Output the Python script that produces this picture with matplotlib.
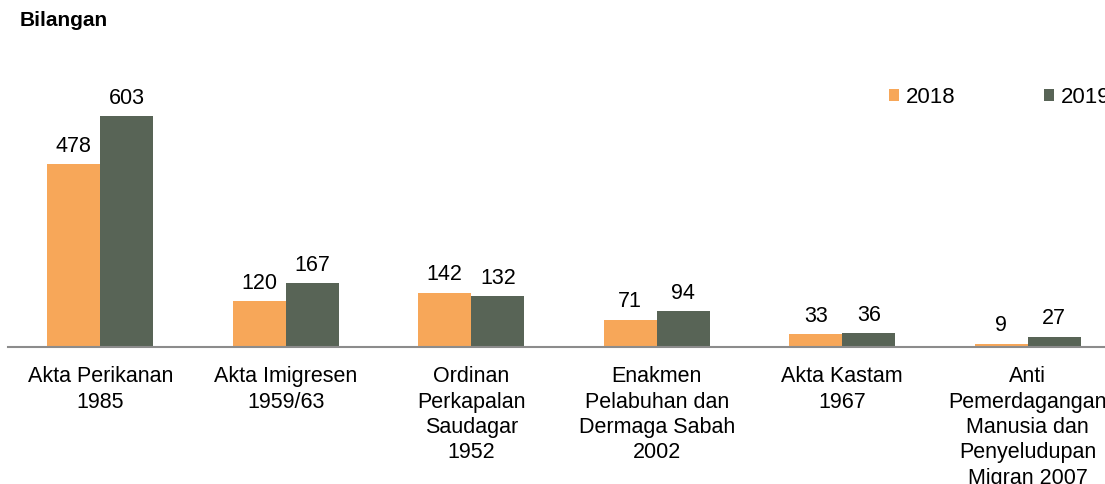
import numpy as np
import matplotlib.pyplot as plt

plt.rcParams['font.family'] = ['Liberation Sans', 'DejaVu Sans']

categories = ['Akta Perikanan\n1985', 'Akta Imigresen\n1959/63', 'Ordinan\nPerkapalan\nSaudagar\n1952',
              'Enakmen\nPelabuhan dan\nDermaga Sabah\n2002', 'Akta Kastam\n1967',
              'Anti\nPemerdagangan\nManusia dan\nPenyeludupan\nMigran 2007']
val2018 = [478, 120, 142, 71, 33, 9]
val2019 = [603, 167, 132, 94, 36, 27]

W, H = 1105, 485
fig = plt.figure(figsize=(W / 100, H / 100), dpi=100)
ax = fig.add_axes([7.5 / W, (H - 348) / H, 1113 / W, 268 / H])

x = np.arange(len(categories))
bw = 0.286
b1 = ax.bar(x - bw / 2, val2018, bw, color='#F7A759', label='2018')
b2 = ax.bar(x + bw / 2, val2019, bw, color='#586456', label='2019')
ax.bar_label(b1, padding=6, fontsize=15.5)
ax.bar_label(b2, padding=6, fontsize=15.5)

ax.set_xlim(-0.5, 5.5)
ax.set_ylim(0, 700)
ax.set_xticks(x)
ax.set_xticklabels(categories, fontsize=15.5, linespacing=1.28)
ax.tick_params(axis='x', length=0, pad=13)
ax.set_yticks([])
for s in ['top', 'right', 'left']:
    ax.spines[s].set_visible(False)
ax.spines['bottom'].set_color('#8c8c8c')
ax.spines['bottom'].set_linewidth(1.5)

fig.legend(handles=[b1, b2], loc='center left', bbox_to_anchor=(889 / W, 1 - 98 / H),
           ncol=2, frameon=False, fontsize=16, handlelength=0.45, handleheight=0.45,
           handletextpad=0.3, columnspacing=4.0, borderpad=0, borderaxespad=0)

fig.text(20 / W, 1 - 21 / H, 'Bilangan', fontsize=15, fontweight='bold', va='center', ha='left')

fig.savefig('out.png', dpi=100)
